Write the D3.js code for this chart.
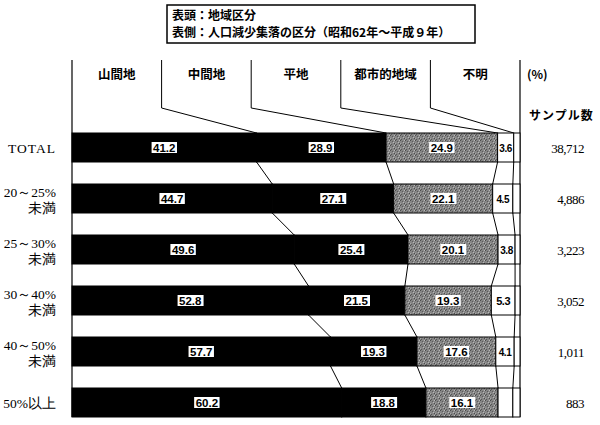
<!DOCTYPE html>
<html>
<head>
<meta charset="utf-8">
<script src="https://cdn.jsdelivr.net/npm/d3@7"></script>
<style>
  body { margin: 0; background: #fff; }
  svg { display: block; }
</style>
</head>
<body>
<svg width="600" height="425"></svg>
<script>
const svg = d3.select("svg");

// row labels (表側) and sample counts
const rows = ["TOTAL", "20～25%|未満", "25～30%|未満", "30～40%|未満", "40～50%|未満", "50%以上"];
const samples = ["38,712", "4,886", "3,223", "3,052", "1,011", "883"];

// series (表頭)
const categories = ["山間地", "中間地", "平地", "都市的地域", "不明"];
const yama  = [41.2, 44.7, 49.6, 52.8, 57.7, 60.2];
const naka  = [28.9, 27.1, 25.4, 21.5, 19.3, 18.8];
const hira  = [24.9, 22.1, 20.1, 19.3, 17.6, 16.1];
const toshi = [3.6, 4.5, 3.8, 5.3, 4.1, 3.3];
const fumei = [1.4, 1.6, 1.1, 1.1, 1.3, 1.6];

const table = rows.map((r, i) => ({
  row: r,
  "山間地": yama[i], "中間地": naka[i], "平地": hira[i], "都市的地域": toshi[i], "不明": fumei[i]
}));

const fills = { "山間地": "#000", "中間地": "#000", "平地": "url(#stipple)", "都市的地域": "#fff", "不明": "#fff" };

const x = d3.scaleLinear().domain([0, 100]).range([72, 520]);
const y = d3.scaleBand().domain(rows).range([133, 417]).paddingInner(22 / 51).paddingOuter(0);
const legendX = d3.scaleBand().domain(categories).range([72, 520]);

const series = d3.stack().keys(categories)(table);

// stippled grey
const defs = svg.append("defs");
const pat = defs.append("pattern").attr("id", "stipple")
  .attr("width", 5).attr("height", 5).attr("patternUnits", "userSpaceOnUse");
pat.append("rect").attr("width", 5).attr("height", 5).attr("fill", "#858585");
[[0, 0, "#4a4a4a"], [2, 1, "#5c5c5c"], [4, 3, "#4a4a4a"], [1, 4, "#555"], [3, 2, "#b8b8b8"], [0, 3, "#a8a8a8"], [4, 0, "#bcbcbc"]]
  .forEach(p => pat.append("rect").attr("x", p[0]).attr("y", p[1]).attr("width", 1).attr("height", 1).attr("fill", p[2]));

const jp = "'Noto Sans CJK JP', sans-serif";
const serif = "'Liberation Serif', 'DejaVu Serif', serif";

// header box
svg.append("rect").attr("x", 167).attr("y", 5).attr("width", 308).attr("height", 38)
  .attr("fill", "none").attr("stroke", "#000").attr("stroke-width", 1.5);
svg.append("text").attr("x", 172).attr("y", 20).attr("font-family", jp).attr("font-weight", 700)
  .attr("font-size", 12).text("表頭：地域区分");
svg.append("text").attr("x", 172).attr("y", 37).attr("font-family", jp).attr("font-weight", 700)
  .attr("font-size", 12).text("表側：人口減少集落の区分（昭和62年～平成９年）");

// legend labels + divider lines
svg.selectAll(".leg").data(categories).enter().append("text")
  .attr("x", d => legendX(d) + legendX.bandwidth() / 2)
  .attr("y", 79)
  .attr("text-anchor", "middle")
  .attr("font-family", jp).attr("font-weight", 700).attr("font-size", 12.5)
  .text(d => d);

const first = series.map(s => s[0][1]);
svg.selectAll(".divider").data(categories.slice(0, 4)).enter().append("polyline")
  .attr("fill", "none").attr("stroke", "#000").attr("stroke-width", 1)
  .attr("points", (d, i) => {
    const lx = legendX(d) + legendX.bandwidth();
    return `${lx},60 ${lx},108 ${x(first[i])},${y(rows[0])}`;
  });
svg.append("line").attr("x1", x(0)).attr("x2", x(0)).attr("y1", 60).attr("y2", 417)
  .attr("stroke", "#000").attr("stroke-width", 1.2);
svg.append("line").attr("x1", x(100)).attr("x2", x(100)).attr("y1", 60).attr("y2", 417)
  .attr("stroke", "#000").attr("stroke-width", 1.2);

svg.append("text").attr("x", 527).attr("y", 79).attr("font-family", jp).attr("font-weight", 700)
  .attr("font-size", 12).text("(%)");
svg.append("text").attr("x", 529).attr("y", 120).attr("font-family", jp).attr("font-weight", 700)
  .attr("font-size", 12).attr("letter-spacing", 1).text("サンプル数");

// connector lines between bars
series.slice(0, 4).forEach(s => {
  for (let i = 0; i < rows.length - 1; i++) {
    svg.append("line")
      .attr("x1", x(s[i][1])).attr("y1", y(rows[i]) + y.bandwidth())
      .attr("x2", x(s[i + 1][1])).attr("y2", y(rows[i + 1]))
      .attr("stroke", "#000").attr("stroke-width", 1);
  }
});

// bars
const layer = svg.selectAll(".layer").data(series).enter().append("g")
  .attr("fill", d => fills[d.key]);
layer.selectAll("rect").data(d => d).enter().append("rect")
  .attr("x", d => x(d[0]))
  .attr("y", d => y(d.data.row))
  .attr("width", d => x(d[1]) - x(d[0]))
  .attr("height", y.bandwidth())
  .attr("stroke", "#000").attr("stroke-width", 1);

// value labels
const hidden = { "都市的地域": [5], "不明": [0, 1, 2, 3, 4, 5] };
series.forEach(s => {
  s.forEach((d, i) => {
    if ((hidden[s.key] || []).includes(i)) return;
    const val = d[1] - d[0];
    const cx = (x(d[0]) + x(d[1])) / 2;
    const cy = y(d.data.row) + y.bandwidth() / 2;
    const onWhite = fills[s.key] === "#fff";
    const t = svg.append("text")
      .attr("x", cx).attr("y", cy + 4)
      .attr("text-anchor", "middle")
      .attr("font-family", "'Liberation Sans', Arial, sans-serif")
      .attr("font-weight", 700)
      .attr("font-size", onWhite ? (val >= 5 ? 11 : 10) : 11.5)
      .attr("letter-spacing", onWhite ? -0.4 : 0)
      .attr("fill", "#000")
      .text(val.toFixed(1));
    if (!onWhite) {
      const bb = t.node().getBBox();
      svg.insert("rect", () => t.node())
        .attr("x", bb.x - 1.5).attr("y", bb.y + 0.5)
        .attr("width", bb.width + 3).attr("height", bb.height - 1)
        .attr("fill", "#fff");
    }
  });
});

// row labels
rows.forEach(r => {
  const parts = r.split("|");
  const cy = y(r) + y.bandwidth() / 2;
  const t = svg.append("text").attr("text-anchor", "end")
    .attr("font-family", serif).attr("font-size", 13.5);
  if (parts.length === 1) {
    t.append("tspan").attr("x", 56).attr("y", cy + 5).text(parts[0])
      .attr("letter-spacing", r === "TOTAL" ? 1 : 0);
  } else {
    t.append("tspan").attr("x", 56).attr("y", cy - 2).text(parts[0]);
    t.append("tspan").attr("x", 56).attr("y", cy + 14).text(parts[1]);
  }
});

// sample counts
svg.selectAll(".n").data(samples).enter().append("text")
  .attr("x", 584)
  .attr("y", (d, i) => y(rows[i]) + y.bandwidth() / 2 + 5)
  .attr("text-anchor", "end")
  .attr("font-family", serif).attr("font-size", 13)
  .attr("letter-spacing", -0.5)
  .text(d => d);
</script>
</body>
</html>
